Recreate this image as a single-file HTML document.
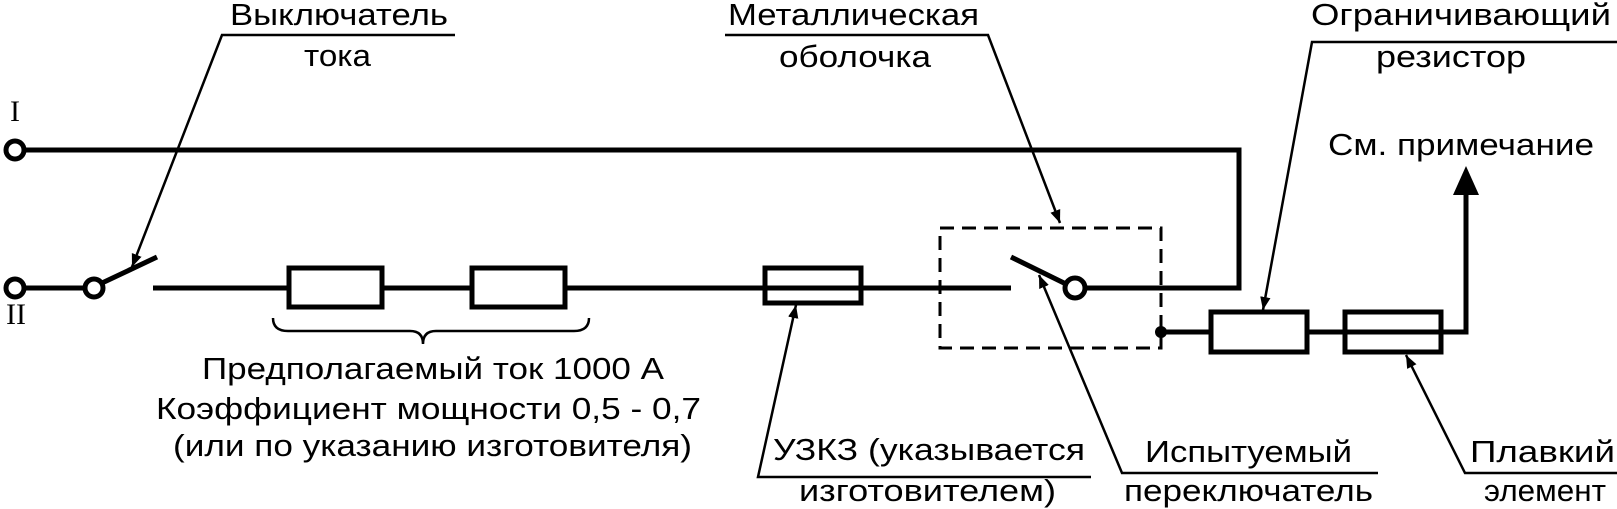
<!DOCTYPE html>
<html><head><meta charset="utf-8"><style>
html,body{margin:0;padding:0;background:#fff;}
svg{display:block;}
text{font-family:"Liberation Sans","DejaVu Sans",sans-serif;font-size:31px;fill:#000;}
.s{font-family:"Liberation Serif",serif;font-size:30px;}
</style></head><body>
<svg width="1617" height="509" viewBox="0 0 1617 509" xmlns="http://www.w3.org/2000/svg">
<defs>
<marker id="a" viewBox="0 0 10 10" refX="10" refY="5" markerWidth="13" markerHeight="13" markerUnits="userSpaceOnUse" orient="auto"><path d="M0,1 L10,5 L0,9 z" fill="#000"/></marker>
</defs>
<g stroke="#000" fill="none">
<!-- line I -->
<circle cx="15" cy="150" r="9" stroke-width="5" fill="#fff"/>
<polyline points="24,150 1239,150 1239,288 1085,288" stroke-width="5"/>
<!-- line II -->
<circle cx="15" cy="288" r="9" stroke-width="5" fill="#fff"/>
<line x1="24" y1="288" x2="85" y2="288" stroke-width="5"/>
<circle cx="94" cy="288" r="9" stroke-width="5" fill="#fff"/>
<line x1="102" y1="283" x2="157" y2="257" stroke-width="5"/>
<line x1="153" y1="288" x2="1011" y2="288" stroke-width="5"/>
<rect x="289" y="268" width="93" height="39" stroke-width="5" fill="#fff"/>
<rect x="472" y="268" width="93" height="39" stroke-width="5" fill="#fff"/>
<rect x="765" y="268" width="96" height="35" stroke-width="5"/>
<!-- dashed enclosure -->
<rect x="940" y="228" width="221" height="120" stroke-width="3" stroke-dasharray="14,8"/>
<line x1="1011" y1="257" x2="1066" y2="284" stroke-width="5"/>
<circle cx="1075" cy="288" r="10" stroke-width="5" fill="#fff"/>
<!-- lower branch -->
<circle cx="1161" cy="332" r="6" fill="#000" stroke="none"/>
<polyline points="1161,332 1466,332 1466,190" stroke-width="5"/>
<rect x="1211" y="312" width="96" height="40" stroke-width="5" fill="#fff"/>
<rect x="1345" y="312" width="96" height="40" stroke-width="5"/>
<path d="M1453,195 L1466,166 L1479,195 Z" fill="#000" stroke="none"/>
<!-- brace -->
<path d="M273,318 Q273,331 288,331 L410,331 Q423,331 423,344 Q423,331 436,331 L574,331 Q589,331 589,318" stroke-width="2.5"/>
<!-- leaders -->
<g stroke-width="2.5">
<polyline points="455,35 222,35 132,267" marker-end="url(#a)"/>
<polyline points="725,35 988,35 1060,223" marker-end="url(#a)"/>
<polyline points="1617,42 1312,42 1263,310" marker-end="url(#a)"/>
<polyline points="1091,477 758,477 796,305" marker-end="url(#a)"/>
<polyline points="1378,473 1122,473 1039,275" marker-end="url(#a)"/>
<polyline points="1617,473 1465,473 1406,355" marker-end="url(#a)"/>
</g>
</g>
<text class="s" x="10" y="121">I</text>
<text class="s" x="6" y="324">II</text>
<text x="230" y="25" textLength="218" lengthAdjust="spacingAndGlyphs">Выключатель</text>
<text x="304" y="66" textLength="67" lengthAdjust="spacingAndGlyphs">тока</text>
<text x="728" y="25" textLength="251" lengthAdjust="spacingAndGlyphs">Металлическая</text>
<text x="779" y="67" textLength="152" lengthAdjust="spacingAndGlyphs">оболочка</text>
<text x="1311" y="25" textLength="300" lengthAdjust="spacingAndGlyphs">Ограничивающий</text>
<text x="1376" y="67" textLength="150" lengthAdjust="spacingAndGlyphs">резистор</text>
<text x="1328" y="155" textLength="266" lengthAdjust="spacingAndGlyphs">См. примечание</text>
<text x="202" y="379" textLength="462" lengthAdjust="spacingAndGlyphs">Предполагаемый ток 1000 А</text>
<text x="156" y="419" textLength="545" lengthAdjust="spacingAndGlyphs">Коэффициент мощности 0,5 - 0,7</text>
<text x="173" y="456" textLength="519" lengthAdjust="spacingAndGlyphs">(или по указанию изготовителя)</text>
<text x="773" y="460" textLength="312" lengthAdjust="spacingAndGlyphs">УЗКЗ (указывается</text>
<text x="799" y="501" textLength="257" lengthAdjust="spacingAndGlyphs">изготовителем)</text>
<text x="1145" y="462" textLength="207" lengthAdjust="spacingAndGlyphs">Испытуемый</text>
<text x="1124" y="501" textLength="249" lengthAdjust="spacingAndGlyphs">переключатель</text>
<text x="1470" y="462" textLength="145" lengthAdjust="spacingAndGlyphs">Плавкий</text>
<text x="1484" y="501" textLength="122" lengthAdjust="spacingAndGlyphs">элемент</text>
</svg>
</body></html>
